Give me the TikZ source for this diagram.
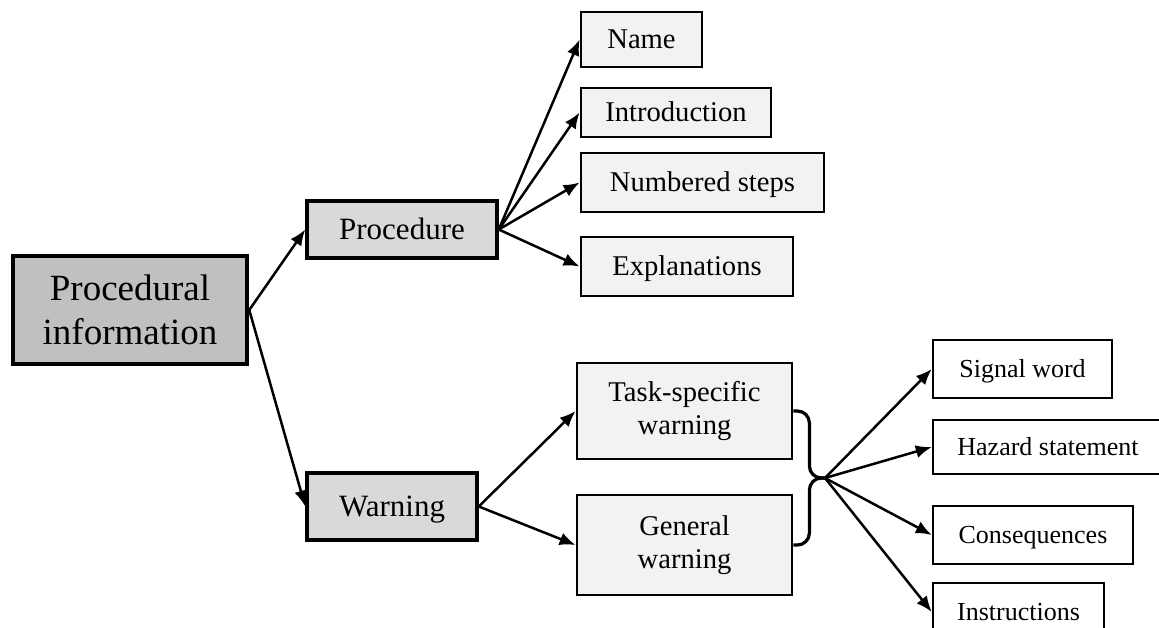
\documentclass[tikz,border=0pt]{standalone}
\usepackage{fontspec}
\setmainfont{Liberation Serif}
\usepackage{tikz}
\usetikzlibrary{arrows.meta}
\definecolor{rootgray}{HTML}{C0C0C0}
\definecolor{midgray}{HTML}{D9D9D9}
\definecolor{leafgray}{HTML}{F2F2F2}
\tikzstyle{root}=[draw, line width=2.25pt, fill=rootgray, align=center, inner sep=0pt, font=\fontsize{18.5}{22}\selectfont]
\tikzstyle{branch}=[draw, line width=1.75pt, fill=midgray, inner sep=0pt, text height=10.2pt, text depth=0pt, font=\fontsize{15.5}{18}\selectfont]
\tikzstyle{leaf}=[draw, line width=1.4pt, fill=leafgray, inner sep=0pt, text height=9.4pt, text depth=0pt, font=\fontsize{14.3}{16.5}\selectfont]
\tikzstyle{twoline}=[draw, line width=1.4pt, fill=leafgray, inner sep=0pt, align=center, font=\fontsize{14.3}{16.5}\selectfont]
\tikzstyle{part}=[draw, line width=1.2pt, fill=white, inner sep=0pt, text height=8.6pt, text depth=0pt, font=\fontsize{13}{15}\selectfont]
\tikzstyle{arrow}=[draw=black, line width=1.25pt, >={Latex[length=8pt,width=6.5pt]}]
\tikzstyle{bracket}=[draw=black, line width=1.6pt, rounded corners=6pt]

\begin{document}
\begin{tikzpicture}[x=0.5pt, y=-0.5pt]
		   \useasboundingbox (0,0) rectangle (1159,627);
		   \begin{scope}
			   \node (info) at (130, 310)[root, minimum width=117pt, minimum height=54pt] {Procedural\\information};
			   \node (proc) at (402, 229.5)[branch, minimum width=95pt, minimum height=28.5pt] {Procedure};
			   \node (warn) at (392, 506.5)[branch, minimum width=85pt, minimum height=33.5pt] {Warning};
			   \node (name) at (641.5, 39.5)[leaf, minimum width=60.5pt, minimum height=27.5pt] {Name};
			   \node (intro) at (676, 112.5)[leaf, minimum width=95pt, minimum height=24.5pt] {Introduction};
			   \node (steps) at (702.5, 182.5)[leaf, minimum width=121.5pt, minimum height=29.5pt] {Numbered steps};
			   \node (expl) at (687, 266.5)[leaf, minimum width=106pt, minimum height=29.5pt] {Explanations};
			   \node (task) at (684.5, 411)[twoline, minimum width=107.5pt, minimum height=48pt] {Task-specific\\warning};
			   \node (general) at (684.5, 545)[twoline, minimum width=107.5pt, minimum height=50pt] {General\\warning};
			   \node (signal) at (1022.5, 369)[part, minimum width=89.5pt, minimum height=29pt] {Signal word};
			   \node (hazard) at (1048, 447)[part, minimum width=115pt, minimum height=27pt] {Hazard statement};
			   \node (conseq) at (1033, 535)[part, minimum width=100pt, minimum height=29pt] {Consequences};
			   \node (instr) at (1018.5, 612)[part, minimum width=85.5pt, minimum height=29pt] {Instructions};
			   \coordinate (tip) at (825, 478);
		   \end{scope}
		   \begin{scope}
			   \path (info.east) edge [arrow, ->] (proc.west);
			   \path (info.east) edge [arrow, ->] (warn.west);
			   \path (proc.east) edge [arrow, ->] (name.west);
			   \path (proc.east) edge [arrow, ->] (intro.west);
			   \path (proc.east) edge [arrow, ->] (steps.west);
			   \path (proc.east) edge [arrow, ->] (expl.west);
			   \path (warn.east) edge [arrow, ->] (task.west);
			   \path (warn.east) edge [arrow, ->] (general.west);
			   \path [bracket] (task.east) -- ++(16, 0) |- (tip);
			   \path [bracket] (general.east) -- ++(16, 0) |- (tip);
			   \path (tip) edge [arrow, ->] (signal.west);
			   \path (tip) edge [arrow, ->] (hazard.west);
			   \path (tip) edge [arrow, ->] (conseq.west);
			   \path (tip) edge [arrow, ->] (instr.west);
		   \end{scope}
	   \end{tikzpicture}
\end{document}
